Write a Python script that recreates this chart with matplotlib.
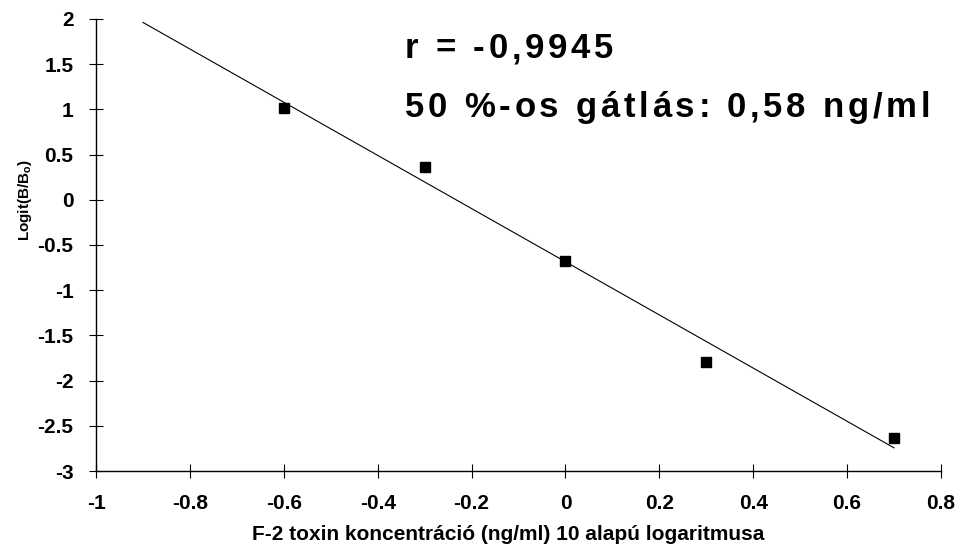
import numpy as np
import matplotlib
matplotlib.use("Agg")
import matplotlib.pyplot as plt
from matplotlib.font_manager import FontProperties, findfont
from matplotlib.ft2font import FT2Font

x_vals = [-0.6, -0.3, 0.0, 0.3, 0.7]
y_vals = [1.02, 0.36, -0.68, -1.79, -2.63]
fit_range = [-0.9, 0.7]
x_ticks = [-1, -0.8, -0.6, -0.4, -0.2, 0, 0.2, 0.4, 0.6, 0.8]
x_ticklabels = ["-1", "-0.8", "-0.6", "-0.4", "-0.2", "0", "0.2", "0.4", "0.6", "0.8"]
y_ticks = [-3, -2.5, -2, -1.5, -1, -0.5, 0, 0.5, 1, 1.5, 2]
y_ticklabels = ["-3", "-2.5", "-2", "-1.5", "-1", "-0.5", "0", "0.5", "1", "1.5", "2"]
text1 = "r = -0,9945"
text2 = "50 %-os gátlás: 0,58 ng/ml"
xlabel = "F-2 toxin koncentráció (ng/ml) 10 alapú logaritmusa"
ylabel = "Logit(B/B$_\\mathregular{o}$)"

W, H, DPI = 961, 550, 100
fig = plt.figure(figsize=(W / DPI, H / DPI), dpi=DPI)
ax = fig.add_axes([0.0999, 0.1436, 0.8793, 0.8219])

slope, intercept = np.polyfit(x_vals, y_vals, 1)
xf = np.array(fit_range)
ax.plot(xf, slope * xf + intercept, color="black", lw=0.8)
ax.plot(x_vals, y_vals, ls="none", marker="s", ms=7.2, color="black")

ax.set_xlim(-1, 0.8)
ax.set_ylim(-3, 2)
ax.set_xticks(x_ticks)
ax.set_xticklabels(x_ticklabels)
ax.set_yticks(y_ticks)
ax.set_yticklabels(y_ticklabels)
for lab in ax.get_xticklabels() + ax.get_yticklabels():
    lab.set_fontfamily("Liberation Sans")
    lab.set_fontweight("bold")
    lab.set_fontsize(15)
ax.tick_params(axis="both", direction="inout", length=9.5, width=0.8, color="black")
ax.tick_params(axis="x", pad=12)
ax.tick_params(axis="y", pad=11.5)
for s in ["top", "right"]:
    ax.spines[s].set_visible(False)
for s in ["left", "bottom"]:
    ax.spines[s].set_linewidth(1.0)

ax.set_xlabel(xlabel, fontfamily="Liberation Sans", fontweight="bold", fontsize=15)
ax.xaxis.set_label_coords((508.5 - 96) / 845, -0.12)
ax.set_ylabel(ylabel, fontfamily="Liberation Sans", fontweight="bold", fontsize=11)
ax.yaxis.set_label_coords((34 - 96) / 845, 0.6)

# annotation text with letter tracking, drawn character by character
fp = FontProperties(family="Liberation Sans", weight="bold", size=25)
ft = FT2Font(findfont(fp))
ft.set_size(25, DPI)
try:
    from matplotlib.ft2font import LoadFlags
    _flags = LoadFlags.NO_HINTING
except Exception:
    _flags = 2


def advance(ch):
    g = ft.load_char(ord(ch), flags=_flags)
    return g.linearHoriAdvance / 65536.0


def tracked_text(s, x0, baseline, tracking):
    x = x0
    for ch in s:
        if ch != " ":
            fig.text(x / W, 1 - baseline / H, ch, fontproperties=fp,
                     ha="left", va="baseline")
        x += advance(ch) + tracking


tracked_text(text1, 405, 58, 3.7)
tracked_text(text2, 405, 117, 3.7)

fig.savefig("out.png", dpi=DPI)
